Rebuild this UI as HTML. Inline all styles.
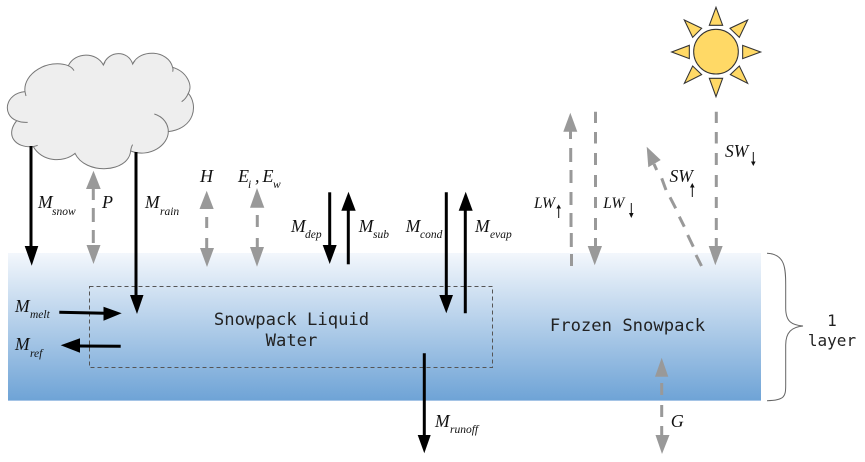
<!DOCTYPE html>
<html>
<head>
<meta charset="utf-8">
<style>
html,body{margin:0;padding:0;background:#fff;width:865px;height:462px;overflow:hidden}
svg{display:block}
.s{font-family:"Liberation Serif",serif;font-style:italic;fill:#111}
.m{font-size:17.5px}
.h{font-size:18px}
.b{font-size:11.5px}
.l{font-size:15.5px}
.w{font-size:17.5px}
.t{font-family:"DejaVu Sans Mono",monospace;font-size:17.2px;fill:#222}
.d{stroke:#999;stroke-width:3;fill:none}
.k{stroke:#000;stroke-width:3;fill:none}
.a{fill:#999}
</style>
</head>
<body>
<svg width="865" height="462" viewBox="0 0 865 462" xmlns="http://www.w3.org/2000/svg">
<defs>
<linearGradient id="g" x1="0" y1="0" x2="0" y2="1">
<stop offset="0" stop-color="#f3f7fc"/>
<stop offset="1" stop-color="#6ea3d6"/>
</linearGradient>
</defs>

<rect x="8" y="253" width="753" height="148" fill="url(#g)"/>
<rect x="8" y="400" width="753" height="1" fill="#a5c4e6"/>
<rect x="89.5" y="286.5" width="403" height="81" fill="none" stroke="#555" stroke-width="1" stroke-dasharray="4 3"/>

<!-- cloud -->
<g transform="translate(0,50) scale(0.3333)" stroke="#777" stroke-width="3">
<path fill="#eeeeee" d="M75,125 C68,70 145,25 205,47 C225,5 290,5 310,45 C325,0 385,0 398,42 C420,-5 505,0 518,52 C560,65 580,105 565,130 C595,165 585,235 505,245 C505,285 450,325 392,303 C385,370 255,375 225,310 C190,340 125,335 100,290 C45,295 15,255 50,212 C5,195 15,130 75,125 Z"/>
<path fill="none" d="M205,47 C212,50 218,55 222,62 M565,130 C560,142 553,150 545,155 M463,192 C490,200 505,222 505,245 M392,303 C393,295 394,290 398,284 M100,290 C104,289 108,288 113,286 M50,212 C60,216 70,218 83,217 M518,52 C520,58 519,62 518,65 M75,125 C76,130 77,134 78,138 M310,45 C312,42 313,40 315,36 M398,42 C400,38 402,36 405,32"/>
</g>

<!-- sun -->
<g transform="translate(630,0) scale(0.3333)" fill="#ffd966" stroke="#333" stroke-width="3.2" stroke-linejoin="miter">
<circle cx="258" cy="155" r="67"/>
<polygon points="258,22 238,76 278,76"/>
<polygon points="258,290 238,235 278,235"/>
<polygon points="125,156 178,136 178,176"/>
<polygon points="392,156 338,136 338,176"/>
<polygon points="163,60 215,85 188,112"/>
<polygon points="353,60 300,85 328,112"/>
<polygon points="163,250 188,198 215,224"/>
<polygon points="353,250 328,198 301,224"/>
</g>

<!-- black arrows -->
<path class="k" d="M31,146V248"/><polygon points="24.7,246 38.3,246 31.7,265.7"/>
<path class="k" d="M136,152V297"/><polygon points="130,295 143.5,295 137,314"/>
<path class="k" d="M329.7,192.3V247"/><polygon points="322.7,245 336.7,245 329.7,264"/>
<path class="k" d="M348.3,264.3V209"/><polygon points="341.3,210.7 355.7,210.7 348.5,191.7"/>
<path class="k" d="M446.3,192.3V297"/><polygon points="439.3,295 453,295 446.3,313.3"/>
<path class="k" d="M465.3,313.3V209"/><polygon points="458.7,210.7 472.7,210.7 465.7,191.7"/>
<path class="k" d="M424.3,353.3V437"/><polygon points="417.7,435 430.7,435 424.3,453.3"/>
<path class="k" d="M59.3,312.3L105,313.2"/><polygon points="103.5,306.7 103.5,320.7 121.7,313.3"/>
<path class="k" d="M120.7,346.3L78,346"/><polygon points="80,338.3 80,352.7 60.7,345.3"/>

<!-- grey arrows -->
<path class="d" d="M93.3,189V200M93.3,208V222M93.3,230V243"/>
<polygon class="a" points="86,189 100.7,189 93.5,170.7"/><polygon class="a" points="86.5,245 100.5,245 93.5,264"/>

<path class="d" d="M206.7,217V228M206.7,238V249"/>
<polygon class="a" points="199.5,209 213.7,209 206.7,190.7"/><polygon class="a" points="200,248 214,248 207,267"/>

<path class="d" d="M257.3,215V227M257.3,238V248"/>
<polygon class="a" points="250,207.7 264.3,207.7 257,188"/><polygon class="a" points="250,247 264,247 257,266.7"/>

<path class="d" d="M570.5,131V139M570.7,148V162M571,170V183M571,192V205M571,213V227M571.3,233V247M571.5,254V266"/>
<polygon class="a" points="563.3,131.7 577.3,131.7 570.3,112.7"/>

<path class="d" d="M595.5,111.7V123M595.5,132V143.5M595.5,153V165M595.5,175V187M595.5,197V208M595.5,218V230M595.5,238V247"/>
<polygon class="a" points="587.7,246 602,246 594.7,265.3"/>

<path class="d" d="M716.3,111.7V123M716.3,132V143.5M716.3,153V165M716.3,175V187M716.3,197V208M716.3,218V230M716.3,238V247"/>
<polygon class="a" points="708.7,246 722.7,246 715.3,265.3"/>

<path class="d" d="M654,164L656.7,170M661.7,178.3L666,190M670,197.3L675.7,208.3M679.3,216.7L684.3,226.7M687.7,235L693.3,246.7M696,255L701.5,266"/>
<polygon class="a" points="648.3,167.3 660.7,160 646.7,146.7"/>

<path class="d" d="M661.7,383V395M661.7,405V417M661.7,426V436"/>
<polygon class="a" points="655,376.7 668.3,376.7 661.7,357.7"/><polygon class="a" points="655.5,435 669.5,435 662,454"/>

<!-- brace -->
<path fill="none" stroke="#666" stroke-width="1" d="M767,253.3 C785,254 785.7,268 785.7,285 L785.7,308 C785.7,322 792,325 803,326 C792,327 785.7,332 785.7,345 L785.7,385 C785.7,396 785,400.5 767,400.7"/>

<!-- mono text -->
<text class="t" x="291.5" y="325" text-anchor="middle">Snowpack Liquid</text>
<text class="t" x="291.5" y="346" text-anchor="middle">Water</text>
<text class="t" x="627.5" y="331" text-anchor="middle">Frozen Snowpack</text>
<text class="t" x="832" y="326" text-anchor="middle" style="font-size:16px">1</text>
<text class="t" x="832" y="346" text-anchor="middle" style="font-size:16px">layer</text>

<!-- labels -->
<text class="s m" x="38" y="208">M</text><text class="s b" x="52" y="215">snow</text>
<text class="s h" x="102" y="208">P</text>
<text class="s m" x="145" y="208">M</text><text class="s b" x="160" y="215">rain</text>
<text class="s h" x="200" y="182">H</text>
<text class="s h" x="238" y="182">E</text><text class="s b" x="248" y="188">i</text><text class="s h" x="255" y="182">,</text><text class="s h" x="262.5" y="182">E</text><text class="s b" x="273" y="188">w</text>
<text class="s m" x="291" y="232">M</text><text class="s b" x="305" y="238">dep</text>
<text class="s m" x="358.7" y="232">M</text><text class="s b" x="373" y="238">sub</text>
<text class="s m" x="405.7" y="232">M</text><text class="s b" x="420" y="238">cond</text>
<text class="s m" x="475" y="232">M</text><text class="s b" x="490" y="238">evap</text>
<text class="s m" x="15" y="312">M</text><text class="s b" x="30" y="318">melt</text>
<text class="s m" x="15" y="350">M</text><text class="s b" x="30" y="357">ref</text>
<text class="s m" x="435" y="427">M</text><text class="s b" x="450" y="433">runoff</text>
<text class="s h" x="670.7" y="427">G</text>
<text class="s l" x="534" y="208">LW</text>
<text class="s l" x="603.3" y="208">LW</text>
<text class="s w" x="669.5" y="182">SW</text>
<text class="s w" x="725" y="157">SW</text>

<!-- tiny arrows -->
<g stroke="#111" stroke-width="1" fill="#111">
<path d="M558.7,218V207"/><polygon stroke="none" points="556.4,208.5 561,208.5 558.7,204.5"/>
<path d="M631.3,203V214"/><polygon stroke="none" points="629,213 633.6,213 631.3,218"/>
<path d="M692.3,197V186"/><polygon stroke="none" points="690,187.5 694.6,187.5 692.3,183"/>
<path d="M753.3,152V162"/><polygon stroke="none" points="751,161.5 755.6,161.5 753.3,166"/>
</g>
</svg>
</body>
</html>
